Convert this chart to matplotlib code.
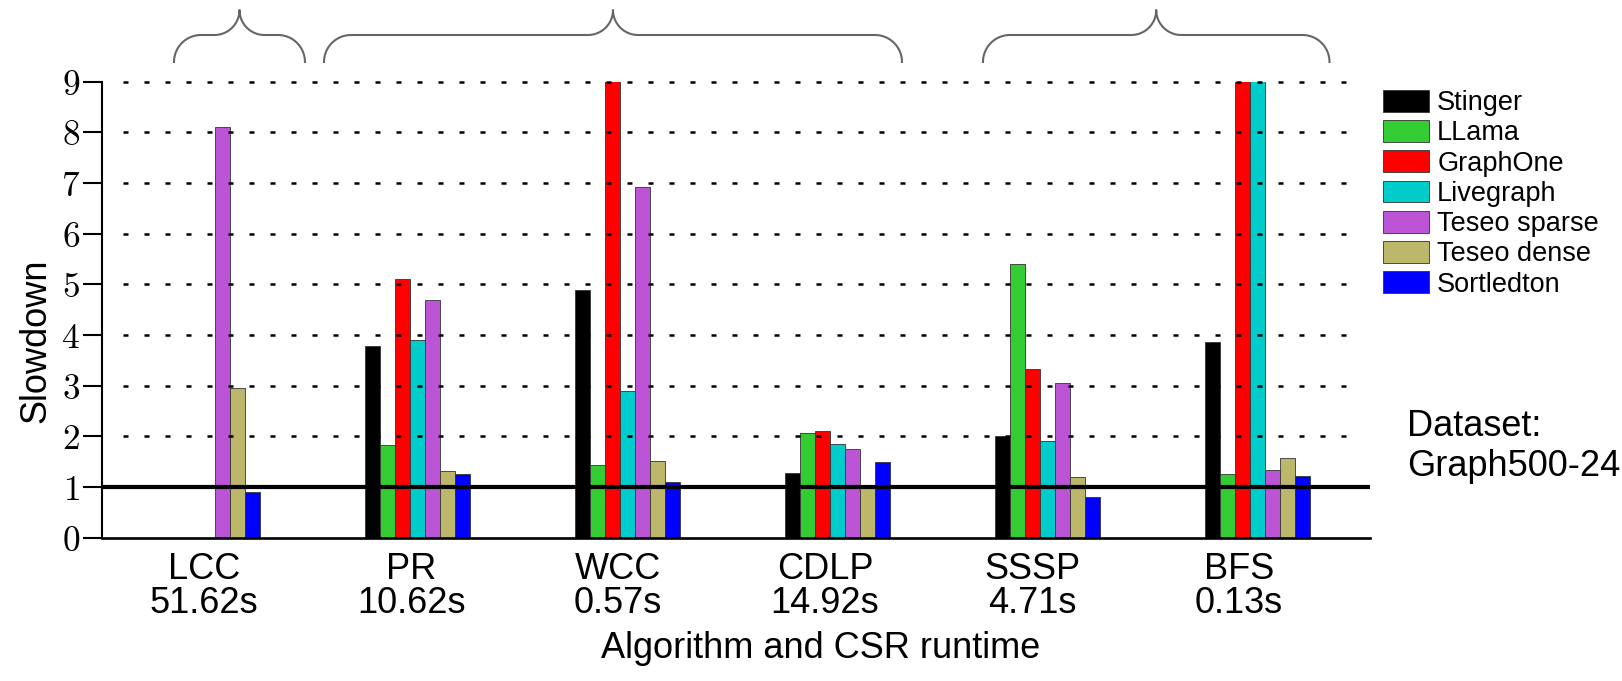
import numpy as np
import matplotlib
matplotlib.use("Agg")
import matplotlib.pyplot as plt
from matplotlib.patches import Patch
from matplotlib.lines import Line2D

plt.rcParams['font.family'] = ['Liberation Sans', 'DejaVu Sans']
plt.rcParams['mathtext.fontset'] = 'cm'

algorithms = ['LCC', 'PR', 'WCC', 'CDLP', 'SSSP', 'BFS']
csr_runtime = ['51.62s', '10.62s', '0.57s', '14.92s', '4.71s', '0.13s']
systems = ['Stinger', 'LLama', 'GraphOne', 'Livegraph', 'Teseo sparse', 'Teseo dense', 'Sortledton']
colors = ['#000000', '#33cc33', '#ff0000', '#00cccc', '#bb55d5', '#bdb76b', '#0000ff']

# slowdown vs CSR, nan = not run; values above 9 are cut off in the original
stinger = [np.nan, 3.78, 4.88, 1.28, 2.01, 3.87]
llama = [np.nan, 1.83, 1.43, 2.06, 5.40, 1.25]
graphone = [np.nan, 5.10, 9.5, 2.11, 3.32, 9.5]
livegraph = [np.nan, 3.91, 2.89, 1.85, 1.91, 9.5]
teseo_sparse = [8.10, 4.69, 6.93, 1.76, 3.05, 1.34]
teseo_dense = [2.95, 1.32, 1.52, 0.99, 1.20, 1.57]
sortledton = [0.91, 1.25, 1.09, 1.49, 0.81, 1.22]
series = [stinger, llama, graphone, livegraph, teseo_sparse, teseo_dense, sortledton]

# braces above the plot (x in bar units)
brace_spans = [(1.27, 10.0), (11.27, 49.8), (55.2, 78.3)]

W, H = 1622, 681
fig = plt.figure(figsize=(W / 100, H / 100), dpi=100)
ax = fig.add_axes([102 / W, 1 - 537.7 / H, (1370 - 102) / W, (537.7 - 81.7) / H])

n = len(algorithms)
group_gap = 14
base = np.arange(n) * group_gap
for j, (vals, c) in enumerate(zip(series, colors)):
    ax.bar(base + j, vals, width=1.0, align='edge', color=c,
           edgecolor='#333333', linewidth=0.6, zorder=2)

ax.set_xlim(-3.53, 81.0)
ax.set_ylim(0, 9)

# dotted grid drawn on top of the bars
for yv in range(2, 10):
    ax.plot([-2.13, 80.47], [yv, yv], color='black', lw=1.8,
            linestyle=(0, (2.0, 6.4)), zorder=3, clip_on=False)
ax.axhline(1, color='black', lw=3.0, zorder=4)

for s in ['top', 'right']:
    ax.spines[s].set_visible(False)
ax.spines['left'].set_linewidth(1.5)
ax.spines['bottom'].set_linewidth(1.9)
ax.spines['left'].set_zorder(5)
ax.spines['bottom'].set_zorder(5)

ax.set_yticks(range(10))
ax.set_yticklabels([f'${v}$' for v in range(10)], fontsize=25.5)
ax.tick_params(axis='y', direction='out', length=14, width=1.5, pad=2)

label_pos = np.arange(n) * 13.8 + 3.27
ax.set_xticks(label_pos)
ax.set_xticklabels([f'{a}\n{r}' for a, r in zip(algorithms, csr_runtime)],
                   fontsize=26, linespacing=0.98)
ax.tick_params(axis='x', length=0, pad=10)

ax.set_ylabel('Slowdown', fontsize=26)
ax.yaxis.set_label_coords(-0.052, 0.431)
ax.yaxis.label.set_va('center')
ax.set_xlabel('Algorithm and CSR runtime', fontsize=26)
ax.xaxis.set_label_coords(0.567, -0.242)
ax.xaxis.label.set_va('center')

handles = [Patch(facecolor=c, edgecolor='#333333', linewidth=0.6) for c in colors]
fig.legend(handles, systems, loc='upper left', bbox_to_anchor=(1383 / W, 1 - 90 / H),
           frameon=False, fontsize=19.5, handlelength=1.7, handleheight=0.85,
           handletextpad=0.3, labelspacing=0.15, borderpad=0, borderaxespad=0)

fig.text(1407 / W, 1 - 426 / H, 'Dataset:', fontsize=26, va='center', ha='left')
fig.text(1407 / W, 1 - 467 / H, 'Graph500-24', fontsize=26, va='center', ha='left')

# curly braces
def to_px(xd):
    return ax.transData.transform((xd, 0))[0]

yb, yf, yt = H - 62, H - 35, H - 10
r1, r2 = yf - yb, yt - yf
for x0d, x1d in brace_spans:
    x0, x1 = to_px(x0d), to_px(x1d)
    tip = (x0 + x1) / 2
    pts = []
    t = np.linspace(np.pi, np.pi / 2, 20)
    pts += list(zip(x0 + r1 + r1 * np.cos(t), yb + r1 * np.sin(t)))
    t = np.linspace(-np.pi / 2, 0, 20)
    pts += list(zip(tip - r2 + r2 * np.cos(t), yt + r2 * np.sin(t)))
    t = np.linspace(np.pi, 1.5 * np.pi, 20)
    pts += list(zip(tip + r2 + r2 * np.cos(t), yt + r2 * np.sin(t)))
    t = np.linspace(np.pi / 2, 0, 20)
    pts += list(zip(x1 - r1 + r1 * np.cos(t), yb + r1 * np.sin(t)))
    pts = np.array(pts)
    fig.add_artist(Line2D(pts[:, 0] / W, pts[:, 1] / H, transform=fig.transFigure,
                          color='#666666', lw=1.5))

fig.savefig('out.png', dpi=100)
